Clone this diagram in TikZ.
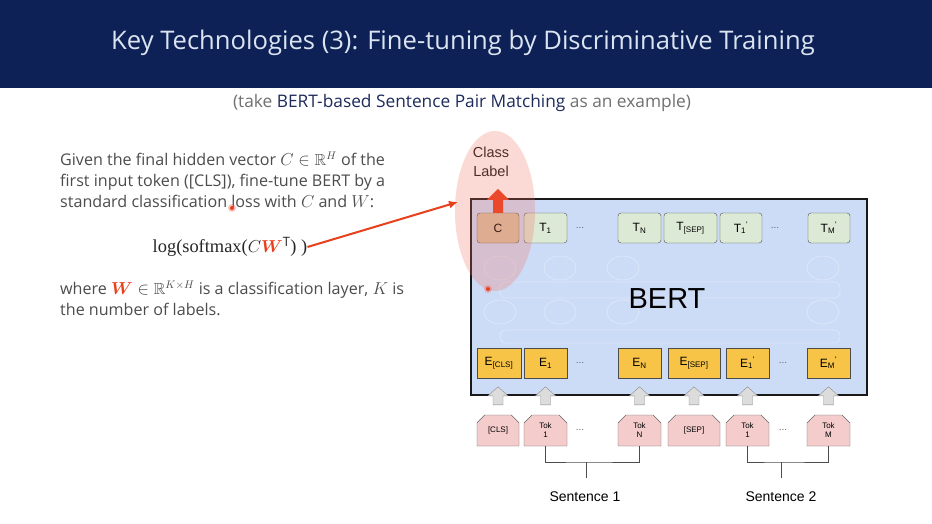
\documentclass[tikz,border=0pt]{standalone}
\usepackage{amsmath,amssymb,bm}
\usepackage{fontspec}
\setmainfont{Open Sans}
\newfontfamily\arialfont{Liberation Sans}
\newfontfamily\formulafont{Liberation Serif}
\usetikzlibrary{arrows.meta,positioning,shapes.misc}
\definecolor{titlebar}{HTML}{0D2156}
\definecolor{titletext}{HTML}{DCE4F2}
\definecolor{subgray}{HTML}{707070}
\definecolor{subnavy}{HTML}{1E2B5C}
\definecolor{bodygray}{HTML}{4C4C4C}
\definecolor{hilite}{HTML}{E8401C}
\definecolor{glow}{HTML}{F26B5B}
\definecolor{bertblue}{HTML}{CDDCF6}
\definecolor{tgreen}{HTML}{DCE9D5}
\definecolor{ctan}{HTML}{D8C3A2}
\definecolor{eyellow}{HTML}{F7C447}
\definecolor{tokpink}{HTML}{F4CCCC}
\definecolor{arrgray}{HTML}{DCDCDC}

\begin{document}
\begin{tikzpicture}[x=1pt,y=-1pt,>=Latex]
\tikzset{
  outbox/.style={draw=black!70,rounded corners=3pt,fill=tgreen,minimum height=30pt,inner sep=0pt,font=\arialfont\fontsize{12}{12}\selectfont},
  embbox/.style={draw=black!70,fill=eyellow,minimum height=30pt,inner sep=0pt,font=\arialfont\fontsize{12}{12}\selectfont},
  tokbox/.style={chamfered rectangle,chamfered rectangle corners={north west,north east},chamfered rectangle xsep=4pt,chamfered rectangle ysep=4pt,draw=black!60,fill=tokpink,minimum height=31pt,inner sep=0pt,align=center,font=\arialfont\fontsize{8}{9}\selectfont},
  dots/.style={text=black!60,font=\arialfont\fontsize{10}{10}\selectfont},
  bodytext/.style={anchor=north west,inner sep=0pt,align=left,text=bodygray,font=\fontsize{16.1}{21}\selectfont},
  netline/.style={draw=white,opacity=0.3,line width=0.8pt},
  uparr/.pic={\draw[draw=black!45,fill=arrgray] (-5,0) -- (-5,-9) -- (-10,-9) -- (0,-18) -- (10,-9) -- (5,-9) -- (5,0) -- cycle;},
  classarr/.pic={\fill[hilite] (-5,0) -- (-5,-13) -- (-11,-13) -- (0,-24) -- (11,-13) -- (5,-13) -- (5,0) -- cycle;}
}
\useasboundingbox (0,0) rectangle (932,524);
\fill[white] (0,0) rectangle (932,524);
% title bar
\fill[titlebar] (0,0) rectangle (932,88);
\node[text=titletext,font=\fontsize{25.6}{26}\selectfont] (title) at (463,43) {Key Technologies (3): Fine-tuning by Discriminative Training};
\node[text=subgray,font=\fontsize{17.3}{18}\selectfont] (subtitle) at (462,103) {(take \textcolor{subnavy}{BERT-based Sentence Pair Matching} as an example)};

% left text
\node[bodytext] (given) at (60,152) {Given the final hidden vector $C\in\mathbb{R}^H$ of the\\
first input token ([CLS]), fine-tune BERT by a\\
standard classification loss with $C$ and $W$:};
\node[inner sep=0pt,text=black!85,font=\formulafont\fontsize{18.4}{18}\selectfont] (formula) at (230,247) {log(softmax($C{\color{hilite}\boldsymbol{W}}^{\mathrm{T}}$) )};
\node[bodytext] (where) at (60,281) {where ${\color{hilite}\boldsymbol{W}}\in\mathbb{R}^{K\times H}$ is a classification layer, $K$ is\\
the number of labels.};

% BERT block
\node[draw=black!90,line width=2.5pt,fill=bertblue,minimum width=396pt,minimum height=196pt,inner sep=0pt] (bert) at (669,297) {};
\foreach \x in {500,560,623,823} {
  \draw[netline] (\x,268) ellipse [x radius=16pt,y radius=12pt];
  \draw[netline] (\x,312) ellipse [x radius=16pt,y radius=12pt];
}
\draw[netline,rounded corners=6pt] (500,282) rectangle (840,298);
\draw[netline,rounded corners=6pt] (500,330) rectangle (840,343);
\node[font=\arialfont\fontsize{29}{29}\selectfont] (bertlabel) at (667,299) {BERT};

% output row
\node[outbox,fill=ctan,minimum width=42pt] (c) at (498,228) {C};
\node[outbox,minimum width=43pt] (t1) at (545.5,228) {T$_{\text{1}}$};
\node[dots] (tdots1) at (580,228) {...};
\node[outbox,minimum width=43pt] (tn) at (639.5,228) {T$_{\text{N}}$};
\node[outbox,minimum width=53pt] (tsep) at (690.5,228) {T$_{\text{[SEP]}}$};
\node[outbox,minimum width=42pt] (t1b) at (741,228) {T$_{\text{1}}{}^{\text{'}}$};
\node[dots] (tdots2) at (775,228) {...};
\node[outbox,minimum width=42pt] (tm) at (829,228) {T$_{\text{M}}{}^{\text{'}}$};

% embedding row
\node[embbox,minimum width=44pt] (ecls) at (499,363) {E$_{\text{[CLS]}}$};
\node[embbox,minimum width=43pt] (e1) at (545.5,363) {E$_{\text{1}}$};
\node[dots] (edots1) at (580,363) {...};
\node[embbox,minimum width=43pt] (en) at (639.5,363) {E$_{\text{N}}$};
\node[embbox,minimum width=52pt] (esep) at (694,363) {E$_{\text{[SEP]}}$};
\node[embbox,minimum width=43pt] (e1b) at (747.5,363) {E$_{\text{1}}{}^{\text{'}}$};
\node[dots] (edots2) at (783,363) {...};
\node[embbox,minimum width=43pt] (em) at (828.5,363) {E$_{\text{M}}{}^{\text{'}}$};

% input tokens
\node[tokbox,minimum width=42pt] (tokcls) at (498,430.5) {[CLS]};
\node[tokbox,minimum width=43pt] (tok1) at (545.5,430.5) {Tok\\1};
\node[dots] (kdots1) at (580,430) {...};
\node[tokbox,minimum width=43pt] (tokn) at (639.5,430.5) {Tok\\N};
\node[tokbox,minimum width=52pt] (toksep) at (694,430.5) {[SEP]};
\node[tokbox,minimum width=43pt] (tok1b) at (747.5,430.5) {Tok\\1};
\node[dots] (kdots2) at (783,430) {...};
\node[tokbox,minimum width=43pt] (tokm) at (828.5,430.5) {Tok\\M};

\foreach \k in {tokcls,tok1,tokn,toksep,tok1b,tokm}
  \pic at ([yshift=10pt]\k.north) {uparr};

% sentence brackets
\coordinate (join1) at (586,462);
\coordinate (join2) at (781,462);
\draw[black!70,line width=1pt] (tok1.south) |- (join1) -| (tokn.south);
\draw[black!70,line width=1pt] (tok1b.south) |- (join2) -| (tokm.south);
\draw[black!70,line width=1pt] (join1) -- ++(0,16);
\draw[black!70,line width=1pt] (join2) -- ++(0,16);
\node[font=\arialfont\fontsize{14}{14}\selectfont] (sent1) at (585,497) {Sentence 1};
\node[font=\arialfont\fontsize{14}{14}\selectfont] (sent2) at (781,497) {Sentence 2};

% class label
\pic at (c.north) {classarr};
\node[align=center,text=black!90,font=\arialfont\fontsize{14.5}{19}\selectfont] (classlabel) at (491,162) {Class\\Label};
\fill[glow,opacity=0.25] (495,211) ellipse [x radius=40pt,y radius=80pt];

% pointer
\coordinate (tip) at (458,202);
\draw[->,hilite,line width=2pt,>={Latex[length=9pt,width=8pt]}] (formula.east) -- (tip);
\fill[glow,opacity=0.4] (232,208) circle [radius=4pt];
\fill[hilite] (232,208) circle [radius=2pt];
\fill[glow,opacity=0.4] (488,289) circle [radius=4pt];
\fill[hilite] (488,289) circle [radius=2pt];
\end{tikzpicture}
\end{document}
